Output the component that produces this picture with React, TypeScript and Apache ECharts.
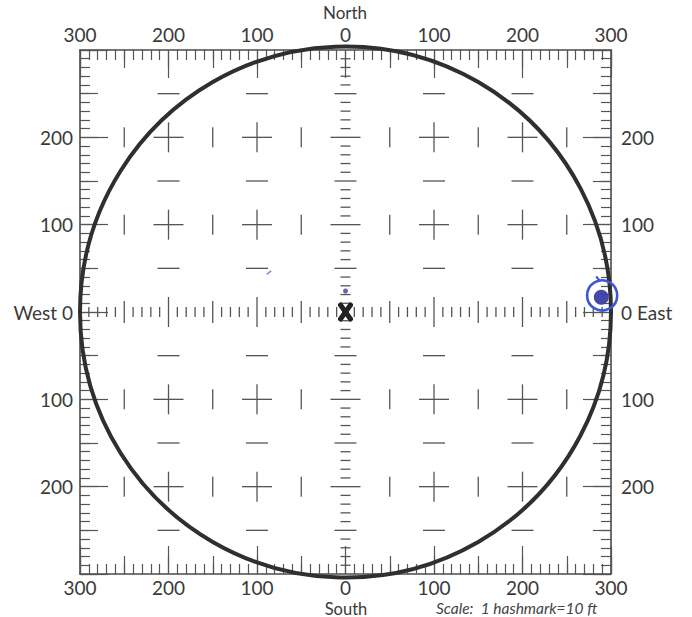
import React, { useEffect, useRef } from "react";
import * as echarts from "echarts";

// Scale / axis values (feet)
const axisMin = -300;
const axisMax = 300;
const labelStep = 100;
const midStep = 50;
const hashStep = 10; // 1 hashmark = 10 ft
const majorGrid = [-200, -100, 100, 200];
const halfGrid = [-250, -150, -50, 50, 150, 250];
const circleRadius = 300;

// Marks
const originMark = [0, 0];
const targetPoint = [289, 17];
const targetRing = [290, 19, 17];
const smallDot = [0, 24];
const strayStroke = [
  [-89, 43],
  [-84, 47],
];

const FONT = "Lato";
const TXT = "#3a3a3a";

function buildMarks() {
  const items: number[][] = [];
  for (const x of majorGrid) for (const y of majorGrid) items.push([x, y, 0]);
  for (const x of majorGrid) for (const y of halfGrid) items.push([x, y, 1]);
  for (const x of halfGrid) for (const y of majorGrid) items.push([x, y, 2]);
  for (let v = axisMin + hashStep; v < axisMax; v += hashStep) {
    if (v === 0) continue;
    items.push([0, v, 3]);
    items.push([v, 0, 4]);
  }
  return items;
}

function xAxisDef(position: string, main: boolean) {
  const top = position === "top";
  return {
    type: "value",
    position,
    min: axisMin,
    max: axisMax,
    interval: main ? labelStep : midStep,
    axisLine: {
      show: main,
      onZero: false,
      lineStyle: { color: "#4a4a4a", width: 1.6 },
    },
    axisTick: {
      show: true,
      inside: true,
      length: main ? 28 : 18,
      lineStyle: { color: "#555", width: 1.2 },
    },
    minorTick: {
      show: main,
      splitNumber: labelStep / hashStep,
      length: 10,
      lineStyle: { color: "#555", width: 1.2 },
    },
    axisLabel: {
      show: main,
      margin: top ? 7 : 4,
      fontFamily: FONT,
      fontSize: 19,
      lineHeight: 18,
      color: TXT,
      formatter: (v: number) => String(Math.abs(v)),
    },
    splitLine: { show: false },
  };
}

function yAxisDef(position: string, main: boolean) {
  const left = position === "left";
  return {
    type: "value",
    position,
    min: axisMin,
    max: axisMax,
    interval: main ? labelStep : midStep,
    axisLine: {
      show: main,
      onZero: false,
      lineStyle: { color: "#4a4a4a", width: 1.6 },
    },
    axisTick: {
      show: true,
      inside: true,
      length: main ? 28 : 18,
      lineStyle: { color: "#555", width: 1.2 },
    },
    minorTick: {
      show: main,
      splitNumber: labelStep / hashStep,
      length: 10,
      lineStyle: { color: "#555", width: 1.2 },
    },
    axisLabel: {
      show: main,
      showMinLabel: false,
      showMaxLabel: false,
      margin: left ? 7 : 10,
      fontFamily: FONT,
      fontSize: 19,
      color: TXT,
      formatter: (v: number) =>
        v === 0 ? (left ? "West 0" : "0 East") : String(Math.abs(v)),
    },
    splitLine: { show: false },
  };
}

export default function App() {
  const ref = useRef<HTMLDivElement>(null);

  useEffect(() => {
    if (!ref.current) return;
    const chart = echarts.init(ref.current, null, { renderer: "svg" });
    const markColor = "#555";

    const option = {
      animation: false,
      backgroundColor: "#ffffff",
      grid: { left: 80, right: 81, top: 50, bottom: 43 },
      xAxis: [
        xAxisDef("bottom", true),
        xAxisDef("top", true),
        xAxisDef("bottom", false),
        xAxisDef("top", false),
      ],
      yAxis: [
        yAxisDef("left", true),
        yAxisDef("right", true),
        yAxisDef("left", false),
        yAxisDef("right", false),
      ],
      graphic: [
        {
          type: "text",
          x: 345,
          y: 12,
          style: {
            text: "North",
            font: `17px "${FONT}"`,
            lineHeight: 16,
            fill: TXT,
            align: "center",
            verticalAlign: "middle",
          },
        },
        {
          type: "text",
          x: 346,
          y: 608.5,
          style: {
            text: "South",
            font: `16.5px "${FONT}"`,
            lineHeight: 15,
            fill: TXT,
            align: "center",
            verticalAlign: "middle",
          },
        },
        {
          type: "text",
          x: 436,
          y: 608,
          style: {
            text: "Scale:  1 hashmark=10 ft",
            font: `italic 15.5px "${FONT}"`,
            lineHeight: 14,
            fill: "#444",
            verticalAlign: "middle",
          },
        },
      ],
      series: [
        {
          type: "custom",
          xAxisIndex: 0,
          yAxisIndex: 0,
          silent: true,
          data: buildMarks(),
          renderItem: (params: any, api: any) => {
            const x = api.value(0);
            const y = api.value(1);
            const kind = api.value(2);
            const [cx, cy] = api.coord([x, y]);
            const style = { stroke: markColor, lineWidth: 1.3 };
            const hl = (h: number) => ({
              type: "line",
              shape: { x1: cx - h, y1: cy, x2: cx + h, y2: cy },
              style,
            });
            const vl = (h: number) => ({
              type: "line",
              shape: { x1: cx, y1: cy - h, x2: cx, y2: cy + h },
              style,
            });
            const len = (v: number) =>
              v % labelStep === 0 ? 15 : v % midStep === 0 ? 11 : 5;
            if (kind === 0)
              return { type: "group", children: [hl(15), vl(15)] };
            if (kind === 1) return hl(11);
            if (kind === 2) return vl(10);
            if (kind === 3) return hl(len(y));
            return vl(len(x));
          },
        },
        {
          type: "custom",
          xAxisIndex: 0,
          yAxisIndex: 0,
          silent: true,
          data: [[0, 0, circleRadius]],
          renderItem: (params: any, api: any) => {
            const [cx, cy] = api.coord([api.value(0), api.value(1)]);
            const s = api.size([api.value(2), api.value(2)]);
            return {
              type: "circle",
              shape: { cx, cy, r: s[0] },
              style: { fill: "none", stroke: "#2f2f2f", lineWidth: 4 },
            };
          },
        },
        {
          type: "custom",
          xAxisIndex: 0,
          yAxisIndex: 0,
          silent: true,
          data: [originMark],
          renderItem: (params: any, api: any) => {
            const [cx, cy] = api.coord([api.value(0), api.value(1)]);
            const st = {
              stroke: "#222",
              lineWidth: 5,
              lineCap: "round",
            };
            return {
              type: "group",
              children: [
                {
                  type: "line",
                  shape: { x1: cx - 5, y1: cy - 7, x2: cx + 5, y2: cy + 7 },
                  style: st,
                },
                {
                  type: "line",
                  shape: { x1: cx + 5, y1: cy - 7, x2: cx - 5, y2: cy + 7 },
                  style: st,
                },
              ],
            };
          },
        },
        {
          type: "custom",
          xAxisIndex: 0,
          yAxisIndex: 0,
          silent: true,
          data: [targetRing],
          renderItem: (params: any, api: any) => {
            const [cx, cy] = api.coord([api.value(0), api.value(1)]);
            const r = api.size([api.value(2), 0])[0];
            return {
              type: "group",
              children: [
                {
                  type: "circle",
                  shape: { cx, cy, r },
                  style: { fill: "none", stroke: "#3d56d4", lineWidth: 2.6 },
                },
                {
                  type: "line",
                  shape: { x1: cx - 6, y1: cy - r - 4, x2: cx - 2, y2: cy - r + 1 },
                  style: { stroke: "#3d56d4", lineWidth: 2.2 },
                },
              ],
            };
          },
        },
        {
          type: "scatter",
          xAxisIndex: 0,
          yAxisIndex: 0,
          silent: true,
          symbol: "circle",
          symbolSize: 15,
          itemStyle: { color: "#3a3ea6", opacity: 0.95 },
          data: [targetPoint],
        },
        {
          type: "scatter",
          xAxisIndex: 0,
          yAxisIndex: 0,
          silent: true,
          symbol: "circle",
          symbolSize: 5,
          itemStyle: { color: "#3b3fa0" },
          data: [smallDot],
        },
        {
          type: "line",
          xAxisIndex: 0,
          yAxisIndex: 0,
          silent: true,
          symbol: "none",
          lineStyle: { color: "#8a86d8", width: 1.5 },
          data: strayStroke,
        },
      ],
    };

    chart.setOption(option as any);
    return () => chart.dispose();
  }, []);

  return (
    <div
      ref={ref}
      style={{ position: "fixed", left: 0, top: 0, width: 692, height: 617 }}
    />
  );
}
